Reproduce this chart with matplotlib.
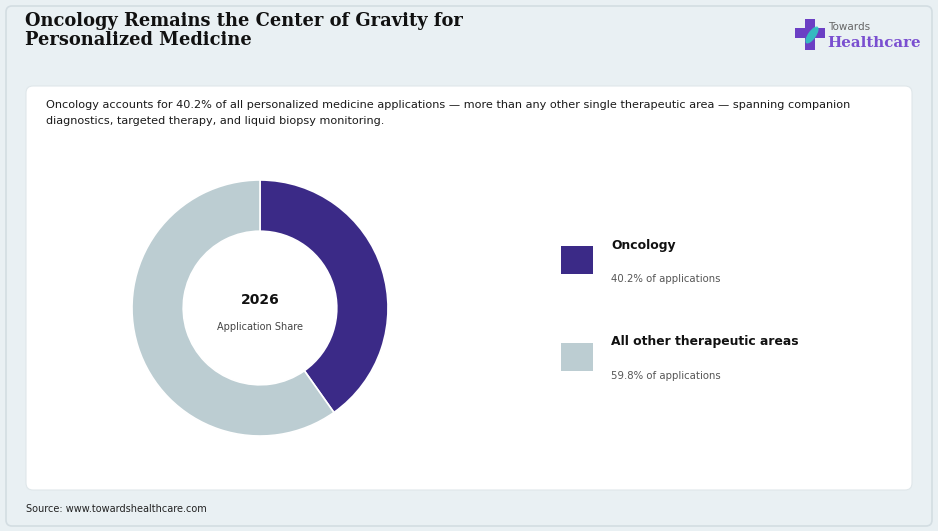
import matplotlib.pyplot as plt
from matplotlib.patches import FancyBboxPatch, Rectangle, Ellipse

W, H = 938, 531

# data
segments = ["Oncology", "All other therapeutic areas"]
shares = [40.2, 59.8]
colors = ["#3b2a87", "#bccdd2"]
center_year = "2026"
center_label = "Application Share"

title = "Oncology Remains the Center of Gravity for\nPersonalized Medicine"
subtitle = ("Oncology accounts for 40.2% of all personalized medicine applications \u2014 more than any other "
            "single therapeutic area \u2014 spanning companion\ndiagnostics, targeted therapy, and liquid biopsy monitoring.")
source = "Source: www.towardshealthcare.com"

fig = plt.figure(figsize=(W / 100, H / 100), dpi=100)
fig.patch.set_facecolor("#e9f0f3")

# background axes in pixel coords
bg = fig.add_axes([0, 0, 1, 1])
bg.set_xlim(0, W)
bg.set_ylim(H, 0)
bg.axis("off")

bg.add_patch(FancyBboxPatch((6, 6), W - 12, H - 11, boxstyle="round,pad=0,rounding_size=6",
                            facecolor="#e9f0f3", edgecolor="#d3dde2", linewidth=1.2))
bg.add_patch(FancyBboxPatch((26, 86), 886, 404, boxstyle="round,pad=0,rounding_size=7",
                            facecolor="white", edgecolor="#dfe7ea", linewidth=0.8))

bg.text(25, 12, title, fontsize=12.9, fontweight="bold", family="DejaVu Serif",
        color="#111111", va="top", ha="left", linespacing=1.08)
bg.text(46, 100, subtitle, fontsize=8.1, color="#1a1a1a", va="top", ha="left", linespacing=1.75)
bg.text(26, 509, source, fontsize=7.0, color="#222222", va="center", ha="left")

# logo
bg.add_patch(Rectangle((805, 19), 10, 31, facecolor="#6b3fc4", edgecolor="none"))
bg.add_patch(Rectangle((795, 28), 30, 10, facecolor="#6b3fc4", edgecolor="none"))
bg.add_patch(Ellipse((812, 35), 8, 20, angle=35, facecolor="#2fc7c0", edgecolor="none", alpha=0.9))
bg.text(828, 27, "Towards", fontsize=7.5, color="#666666", va="center", ha="left")
bg.text(827, 43, "Healthcare", fontsize=10.8, fontweight="bold", family="DejaVu Serif",
        color="#7a4fd0", va="center", ha="left")

# legend
for i, (name, val, col) in enumerate(zip(segments, shares, colors)):
    y0 = 246 + i * 97
    bg.add_patch(Rectangle((561, y0), 32, 28, facecolor=col, edgecolor="none"))
    bg.text(611, y0 - 1, name, fontsize=8.9, fontweight="bold", color="#111111", va="center", ha="left")
    bg.text(611, y0 + 33, f"{val}% of applications", fontsize=7.3, color="#555555",
            va="center", ha="left")

# donut
cx, cy, r = 260, 308, 128
ax = fig.add_axes([(cx - r) / W, 1 - (cy + r) / H, 2 * r / W, 2 * r / H])
ax.pie(shares, colors=colors, startangle=90, counterclock=False, radius=1,
       wedgeprops=dict(width=0.4, edgecolor="white", linewidth=1.2))
ax.set_xlim(-1, 1)
ax.set_ylim(-1, 1)
ax.set_aspect("equal")
ax.text(0, 0.06, center_year, fontsize=10, fontweight="bold", color="#111111", ha="center", va="center")
ax.text(0, -0.15, center_label, fontsize=7, color="#444444", ha="center", va="center")

fig.savefig("out.png", dpi=100, facecolor=fig.get_facecolor())
